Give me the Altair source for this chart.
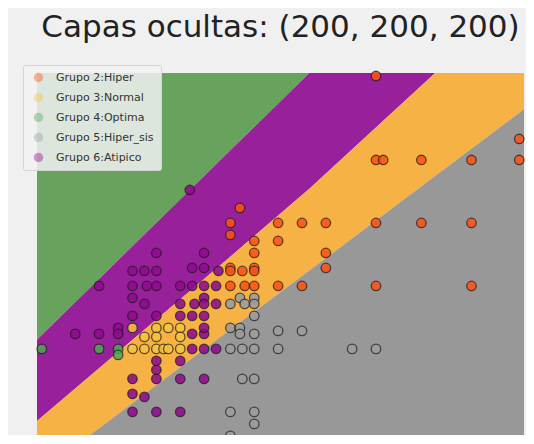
import altair as alt
import pandas as pd

# ---------------- data ----------------
title_text = "Capas ocultas: (200, 200, 200)"
groups = ["Grupo 2:Hiper", "Grupo 3:Normal", "Grupo 4:Optima", "Grupo 5:Hiper_sis", "Grupo 6:Atipico"]
point_colors = ["#fb5216", "#f6c240", "#4fa552", "#9c9c9c", "#8e0a8e"]

hiper_x = [170, 170, 171.5, 179.5, 190, 200, 200, 141.5, 139.5, 139.5, 149.5, 154.5, 159.5, 170, 179.5, 190,
           144.5, 149.5, 144.5, 159.5, 159.5, 139.5, 142, 144.5, 144.5, 139.5, 139.5, 142.5, 144.5, 149.5, 154.5, 170, 190]
hiper_y = [171, 143, 143, 143, 143, 150, 143, 127, 122, 118, 122, 122, 122, 122, 122, 122,
           116, 116, 112, 112, 107, 107, 106, 107, 106, 106, 101, 101, 101, 101, 101, 101, 101]

normal_x = [119, 121.5, 124, 126.5, 129, 129, 124, 119, 121.5, 124, 125.5, 126.5, 129]
normal_y = [87, 84, 87, 87, 87, 84, 84, 80, 80, 80, 80, 80, 80]

optima_x = [100, 112, 116, 116]
optima_y = [80, 80, 80, 78]

hsis_x = [139.5, 141.5, 142.5, 144.5, 144.5, 144.5, 139.5, 141.5, 141.5, 144.5, 149.5, 154.5,
          139.5, 142, 144.5, 149.5, 165, 170, 142, 144.5, 139.5, 144.5, 144.5, 139.5]
hsis_y = [95, 97, 95, 97, 95, 91, 87, 87, 85, 85, 86, 86,
          80, 80, 80, 80, 80, 80, 70, 70, 59, 59, 55, 51]

atip_x = [131, 112, 107, 112, 116, 116, 119, 121.5, 124, 124, 119, 122, 124, 119, 121.5, 119, 124,
          129, 131.5, 134, 136.5, 134, 134, 131.5, 137, 129, 132, 134, 134, 136.5, 129, 131.5, 134,
          131.5, 134, 134, 131.5, 134, 136.5, 124, 124, 129, 119, 124, 129, 134, 119, 121.5, 119, 124, 129]
atip_y = [133, 101, 85, 85, 87, 85, 106, 106, 112, 106, 101, 101, 101, 97, 95, 91, 91,
          101, 101, 101, 101, 112, 107, 107, 106, 95, 95, 97, 95, 95, 91, 91, 91,
          85, 85, 87, 80, 80, 80, 76, 73, 76, 70, 70, 70, 70, 65, 64, 59, 59, 59]

# decision regions: boundary polylines (same x positions)
bound_x = [99, 139.3, 156.1, 182.6, 201]
b_green_purple = [83.1, 145.9, 172.1, 213.3, 242.0]
b_purple_orange = [56.0, 110.5, 133.5, 172.3, 198.7]
b_orange_gray = [38.0, 86.2, 106.2, 137.9, 159.9]
far_top = [260, 260, 260, 260, 260]
far_bottom = [0, 0, 0, 0, 0]
region_colors = ["#68a35e", "#98209a", "#f6b245", "#989898"]

X_DOMAIN = [99, 201]
Y_DOMAIN = [51.3, 172]

# ---------------- chart ----------------
W, H = 487, 362
xs = alt.Scale(domain=X_DOMAIN, nice=False, zero=False)
ys = alt.Scale(domain=Y_DOMAIN, nice=False, zero=False)


def band(lo, hi, color):
    df = pd.DataFrame({"x": bound_x, "lo": lo, "hi": hi})
    return alt.Chart(df).mark_area(color=color, opacity=1, clip=True).encode(
        x=alt.X("x:Q", scale=xs, axis=None),
        y=alt.Y("lo:Q", scale=ys, axis=None, stack=None),
        y2="hi:Q",
    )


bands = [
    band(b_green_purple, far_top, region_colors[0]),
    band(b_purple_orange, b_green_purple, region_colors[1]),
    band(b_orange_gray, b_purple_orange, region_colors[2]),
    band(far_bottom, b_orange_gray, region_colors[3]),
]

rows = []
for g, xx, yy in zip(groups,
                     [hiper_x, normal_x, optima_x, hsis_x, atip_x],
                     [hiper_y, normal_y, optima_y, hsis_y, atip_y]):
    for a, b in zip(xx, yy):
        rows.append({"x": a, "y": b, "grupo": g})
pts = pd.DataFrame(rows)
pts["orden"] = range(len(pts))

points = alt.Chart(pts).mark_circle(
    size=90, stroke="#1a1a1a", strokeWidth=1.3, strokeOpacity=0.7, fillOpacity=0.88, opacity=1
).encode(
    x=alt.X("x:Q", scale=xs, axis=None),
    y=alt.Y("y:Q", scale=ys, axis=None),
    order=alt.Order("orden:Q"),
    color=alt.Color(
        "grupo:N",
        scale=alt.Scale(domain=groups, range=point_colors),
        legend=alt.Legend(
            title=None, orient="none", legendX=-14, legendY=-8,
            labelFont="DejaVu Sans", labelFontSize=11, labelColor="#333333",
            symbolType="circle", symbolSize=90, symbolOpacity=0.4, symbolStrokeWidth=0,
            fillColor="rgba(242,242,242,0.85)", strokeColor="#d4d4d4", cornerRadius=2,
            padding=7, rowPadding=8, labelOffset=12, symbolOffset=3,
        ),
    ),
)

title = alt.Chart(pd.DataFrame({"t": [title_text]})).mark_text(
    font="DejaVu Sans", fontSize=31, color="#222222", align="center", baseline="alphabetic"
).encode(text="t:N", x=alt.value(W / 2), y=alt.value(-36))

chart = alt.layer(*bands, points, title).properties(
    width=W,
    height=H,
    padding={"left": 29, "top": 65, "right": 2, "bottom": 0},
    autosize="none",
).configure(background="#f0f0f0").configure_view(stroke=None)

chart.save("out.html", embed_options={"renderer": "svg", "actions": False})
